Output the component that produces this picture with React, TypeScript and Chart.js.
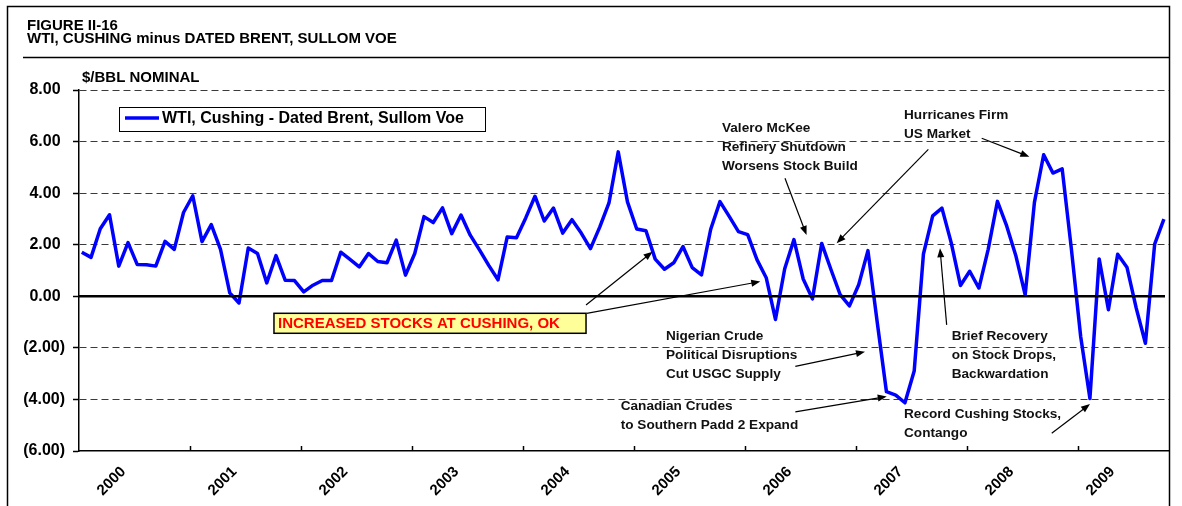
import React, { useEffect, useRef } from 'react';
import { Chart, registerables } from 'chart.js';

Chart.register(...registerables);

// ---------------- data ----------------
const years = ['2000', '2001', '2002', '2003', '2004', '2005', '2006', '2007', '2008', '2009'];

// WTI Cushing minus Dated Brent, monthly, Jan 2000 - Oct 2009 ($/bbl)
const spread = [
  1.71, 1.51, 2.62, 3.16, 1.17, 2.08, 1.23, 1.22, 1.17, 2.13, 1.82, 3.25,
  3.90, 2.12, 2.78, 1.82, 0.13, -0.26, 1.87, 1.66, 0.52, 1.58, 0.62, 0.61,
  0.17, 0.43, 0.61, 0.61, 1.71, 1.43, 1.14, 1.66, 1.35, 1.30, 2.18, 0.82,
  1.66, 3.09, 2.86, 3.43, 2.43, 3.15, 2.37, 1.80, 1.20, 0.64, 2.30, 2.27,
  3.04, 3.88, 2.92, 3.42, 2.45, 2.97, 2.45, 1.85, 2.68, 3.62, 5.60, 3.66,
  2.61, 2.54, 1.44, 1.05, 1.30, 1.93, 1.11, 0.83, 2.60, 3.67, 3.10, 2.51,
  2.39, 1.42, 0.72, -0.90, 1.07, 2.20, 0.67, -0.10, 2.05, 1.04, 0.06, -0.37,
  0.45, 1.77, -1.00, -3.70, -3.83, -4.13, -2.90, 1.64, 3.12, 3.42, 2.08, 0.42,
  0.97, 0.32, 1.82, 3.68, 2.73, 1.56, 0.06, 3.64, 5.49, 4.78, 4.94, 1.82,
  -1.56, -3.96, 1.45, -0.52, 1.63, 1.13, -0.45, -1.82, 2.02, 2.99,
];

const yTickValues = [-6, -4, -2, 0, 2, 4, 6, 8];
const yTickLabels = ['(6.00)', '(4.00)', '(2.00)', '0.00 ', '2.00 ', '4.00 ', '6.00 ', '8.00 '];

const seriesLabel = 'WTI, Cushing - Dated Brent, Sullom Voe';
const titleLines = ['FIGURE II-16', 'WTI, CUSHING minus DATED BRENT, SULLOM VOE'];
const unitLabel = '$/BBL NOMINAL';
const calloutText = 'INCREASED STOCKS AT CUSHING, OK';

// annotation anchors in data units (x = month index from Jan 2000, y = $/bbl)
const notes = [
  { lines: ['Valero McKee', 'Refinery Shutdown', 'Worsens Stock Build'], x: 69.52, y: 6.53 },
  { lines: ['Hurricanes Firm', 'US Market'], x: 89.2, y: 7.03 },
  { lines: ['Nigerian Crude', 'Political Disruptions', 'Cut USGC Supply'], x: 63.46, y: -1.54 },
  { lines: ['Canadian Crudes', 'to Southern Padd 2 Expand'], x: 58.57, y: -4.26 },
  { lines: ['Brief Recovery', 'on Stock Drops,', 'Backwardation'], x: 94.36, y: -1.54 },
  { lines: ['Record Cushing Stocks,', 'Contango'], x: 89.2, y: -4.58 },
];
const callout = { x0: 21.08, x1: 54.82, y0: -0.66, y1: -1.435 };
const arrows = [
  { from: [54.82, -0.34], to: [62.01, 1.73] },
  { from: [54.89, -0.66], to: [73.66, 0.57] },
  { from: [76.33, 4.58], to: [78.66, 2.38] },
  { from: [91.83, 5.70], to: [81.92, 2.06] },
  { from: [97.6, 6.13], to: [102.75, 5.41] },
  { from: [77.45, -2.72], to: [84.98, -2.15] },
  { from: [77.45, -4.48], to: [87.33, -3.89] },
  { from: [93.81, -1.11], to: [93.09, 1.86] },
  { from: [105.17, -5.31], to: [109.31, -4.18] },
];

const X_MAX = 117.85;
const POINT_OFFSET = 0.3;
const FONT = '"Liberation Sans", Arial, Helvetica, sans-serif';

function drawArrow(ctx: CanvasRenderingContext2D, x1: number, y1: number, x2: number, y2: number) {
  const ang = Math.atan2(y2 - y1, x2 - x1);
  const len = 9;
  const hw = 3.5;
  ctx.beginPath();
  ctx.moveTo(x1, y1);
  ctx.lineTo(x2 - Math.cos(ang) * (len - 1), y2 - Math.sin(ang) * (len - 1));
  ctx.stroke();
  ctx.beginPath();
  ctx.moveTo(x2, y2);
  ctx.lineTo(x2 - Math.cos(ang) * len - Math.sin(ang) * hw, y2 - Math.sin(ang) * len + Math.cos(ang) * hw);
  ctx.lineTo(x2 - Math.cos(ang) * len + Math.sin(ang) * hw, y2 - Math.sin(ang) * len - Math.cos(ang) * hw);
  ctx.closePath();
  ctx.fill();
}

const decor = {
  id: 'decor',
  beforeDraw(chart: any) {
    const { ctx, width, height } = chart;
    ctx.save();
    ctx.fillStyle = '#fff';
    ctx.fillRect(0, 0, width, height);
    ctx.restore();
  },
  afterDatasetsDraw(chart: any) {
    const { ctx } = chart;
    const xs = chart.scales.x;
    const ys = chart.scales.y;
    ctx.save();
    // zero line
    const y0 = ys.getPixelForValue(0);
    ctx.strokeStyle = '#000';
    ctx.lineWidth = 2.5;
    ctx.beginPath();
    ctx.moveTo(xs.left, y0);
    ctx.lineTo(xs.right - 4, y0);
    ctx.stroke();
    // year tick marks (inside)
    ctx.lineWidth = 1.5;
    for (let k = 1; k < years.length; k++) {
      const px = Math.round(xs.getPixelForValue(k * 12)) + 0.5;
      ctx.beginPath();
      ctx.moveTo(px, ys.bottom);
      ctx.lineTo(px, ys.bottom - 5);
      ctx.stroke();
    }
    ctx.restore();
  },
  afterDraw(chart: any) {
    const { ctx, height } = chart;
    const xs = chart.scales.x;
    const ys = chart.scales.y;
    const X = (v: number) => xs.getPixelForValue(v);
    const Y = (v: number) => ys.getPixelForValue(v);
    ctx.save();
    // frame
    ctx.strokeStyle = '#000';
    ctx.lineWidth = 1.5;
    ctx.beginPath();
    ctx.moveTo(7.5, height);
    ctx.lineTo(7.5, 6.5);
    ctx.lineTo(xs.right + 0.5, 6.5);
    ctx.lineTo(xs.right + 0.5, height);
    ctx.stroke();
    ctx.beginPath();
    ctx.moveTo(23, 57.5);
    ctx.lineTo(xs.right + 0.5, 57.5);
    ctx.stroke();

    // titles
    ctx.fillStyle = '#000';
    ctx.textBaseline = 'middle';
    ctx.textAlign = 'left';
    ctx.font = `bold 15px ${FONT}`;
    ctx.fillText(titleLines[0], 27, 25.5);
    ctx.fillText(titleLines[1], 27, 39);
    ctx.fillText(unitLabel, 82, 78);

    // legend
    ctx.fillStyle = '#fff';
    ctx.fillRect(119.5, 107.5, 366, 24);
    ctx.strokeStyle = '#000';
    ctx.lineWidth = 1;
    ctx.strokeRect(119.5, 107.5, 366, 24);
    ctx.strokeStyle = '#0000FF';
    ctx.lineWidth = 3.5;
    ctx.beginPath();
    ctx.moveTo(125, 118);
    ctx.lineTo(159, 118);
    ctx.stroke();
    ctx.fillStyle = '#000';
    ctx.font = `bold 16px ${FONT}`;
    ctx.fillText(seriesLabel, 162, 119);

    // notes
    ctx.font = `bold 13.6px ${FONT}`;
    ctx.fillStyle = '#111';
    notes.forEach((n) => {
      n.lines.forEach((line, i) => {
        ctx.fillText(line, X(n.x), Y(n.y) + i * 19);
      });
    });

    // callout box
    const bx0 = X(callout.x0), bx1 = X(callout.x1), by0 = Y(callout.y0), by1 = Y(callout.y1);
    ctx.fillStyle = '#FFFF99';
    ctx.fillRect(bx0, by0, bx1 - bx0, by1 - by0);
    ctx.strokeStyle = '#000';
    ctx.lineWidth = 1.5;
    ctx.strokeRect(bx0, by0, bx1 - bx0, by1 - by0);
    ctx.fillStyle = '#FF0000';
    ctx.font = `bold 15px ${FONT}`;
    ctx.fillText(calloutText, bx0 + 4, (by0 + by1) / 2 + 0.5);

    // arrows
    ctx.strokeStyle = '#000';
    ctx.fillStyle = '#000';
    ctx.lineWidth = 1.2;
    arrows.forEach((a) => {
      drawArrow(ctx, X(a.from[0]), Y(a.from[1]), X(a.to[0]), Y(a.to[1]));
    });
    ctx.restore();
  },
};

export default function App() {
  const ref = useRef<HTMLCanvasElement | null>(null);
  useEffect(() => {
    if (!ref.current) return;
    Chart.defaults.font.family = FONT;
    const chart = new Chart(ref.current, {
      type: 'line',
      data: {
        datasets: [
          {
            label: seriesLabel,
            data: spread.map((v, i) => ({ x: i + POINT_OFFSET, y: v })),
            borderColor: '#0000FF',
            borderWidth: 3.5,
            pointRadius: 0,
            tension: 0,
            borderJoinStyle: 'round',
            xAxisID: 'x',
            yAxisID: 'y',
          },
        ],
      },
      options: {
        animation: false,
        responsive: false,
        devicePixelRatio: 1,
        layout: { padding: { top: 90, right: 13, bottom: 0, left: 0 } },
        plugins: {
          legend: { display: false },
          title: { display: false },
          tooltip: { enabled: false },
        },
        scales: {
          x: {
            type: 'linear',
            position: 'bottom',
            min: 0,
            max: X_MAX,
            grid: { display: false },
            ticks: { display: false },
            border: { display: true, color: '#000', width: 1.5 },
            afterFit: (s: any) => { s.height = 0; },
          },
          xYears: {
            type: 'linear',
            position: 'bottom',
            min: 0,
            max: X_MAX,
            grid: { display: false, drawTicks: false },
            border: { display: false },
            afterBuildTicks: (s: any) => {
              s.ticks = years.map((_, i) => ({ value: (i * 12 + Math.min(i * 12 + 12, X_MAX)) / 2 }));
            },
            ticks: {
              autoSkip: false,
              minRotation: 45,
              maxRotation: 45,
              labelOffset: -11,
              padding: 12,
              color: '#000',
              font: { size: 15, weight: 'bold' },
              callback: (_v: any, i: number) => years[i],
            },
            afterFit: (s: any) => { s.height = 55; },
          },
          y: {
            type: 'linear',
            min: -6,
            max: 8,
            afterBuildTicks: (s: any) => {
              s.ticks = yTickValues.map((v) => ({ value: v }));
            },
            ticks: {
              color: '#000',
              padding: 8,
              font: { size: 16, weight: 'bold' },
              callback: (v: any) => yTickLabels[yTickValues.indexOf(Number(v))],
            },
            grid: {
              color: (c: any) => (c.tick && (c.tick.value === 0 || c.tick.value === -6) ? 'rgba(0,0,0,0)' : '#3a3a3a'),
              lineWidth: 1,
              tickLength: 6,
              tickColor: '#000',
              tickWidth: 1.5,
            },
            border: { display: true, color: '#000', width: 1.5, dash: [7, 4] },
            afterFit: (s: any) => { s.width = 79; },
          },
        },
      } as any,
      plugins: [decor],
    });
    return () => chart.destroy();
  }, []);
  return (
    <div style={{ position: 'absolute', left: 0, top: 0, width: 1182, height: 506 }}>
      <canvas ref={ref} width={1182} height={506} style={{ display: 'block', width: 1182, height: 506 }} />
    </div>
  );
}
